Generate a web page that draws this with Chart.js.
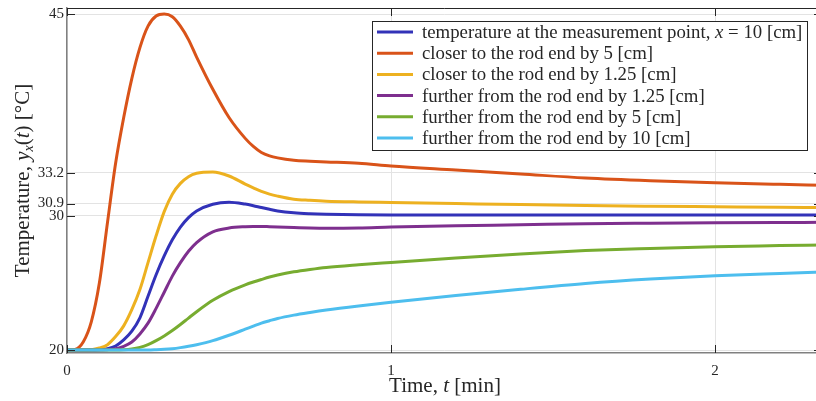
<!DOCTYPE html>
<html>
<head>
<meta charset="utf-8">
<script src="https://cdn.jsdelivr.net/npm/chart.js@4/dist/chart.umd.min.js"></script>
<style>
  html, body { margin: 0; padding: 0; background: #fff; overflow: hidden; }
  #wrap { width: 816px; height: 401px; overflow: hidden; }
  #box { width: 823px; height: 401px; position: relative; }
</style>
</head>
<body>
<div id="wrap"><div id="box"><canvas id="chart"></canvas></div></div>
<script>
// time axis [min]
const time = [0, 0.025, 0.05, 0.075, 0.1, 0.125, 0.15, 0.175, 0.2, 0.225, 0.25, 0.275, 0.3, 0.325, 0.35, 0.375,
  0.4, 0.45, 0.5, 0.55, 0.575, 0.6, 0.625, 0.65, 0.7, 0.75, 0.8, 0.9, 1.0, 1.2, 1.4, 1.6, 1.8, 2.0, 2.2, 2.33]

// temperature responses [°C]
const measPoint = [20, 20, 20, 20, 20.03, 20.1, 20.3, 20.75, 21.4, 22.4, 24.0, 25.6, 27.0, 28.2, 29.15, 29.85,
  30.35, 30.85, 31.0, 30.86, 30.74, 30.6, 30.47, 30.35, 30.21, 30.14, 30.1, 30.06, 30.05, 30.05, 30.05, 30.05, 30.05, 30.05, 30.05, 30.05]
const closer5 = [20, 20.05, 20.6, 22.1, 25.0, 29.5, 33.9, 37.3, 40.2, 42.5, 44.1, 44.85, 45.0, 44.8, 44.1, 43.1,
  41.8, 39.4, 37.3, 35.75, 35.15, 34.7, 34.45, 34.3, 34.12, 34.05, 34.0, 33.9, 33.7, 33.4, 33.1, 32.8, 32.6, 32.45, 32.33, 32.26]
const closer125 = [20, 20, 20, 20.02, 20.15, 20.4, 21.0, 21.8, 23.0, 24.5, 26.5, 28.5, 30.3, 31.6, 32.4, 32.9,
  33.15, 33.25, 32.95, 32.35, 32.07, 31.8, 31.6, 31.45, 31.22, 31.14, 31.08, 31.02, 30.98, 30.9, 30.82, 30.75, 30.7, 30.66, 30.62, 30.6]
const further125 = [20, 20, 20, 20, 20, 20.03, 20.1, 20.28, 20.6, 21.2, 22.0, 23.1, 24.3, 25.5, 26.5, 27.35,
  28.0, 28.8, 29.08, 29.18, 29.2, 29.2, 29.18, 29.16, 29.12, 29.08, 29.06, 29.08, 29.15, 29.25, 29.32, 29.4, 29.44, 29.47, 29.49, 29.5]
const further5 = [20, 20, 20, 20, 20, 20, 20, 20.02, 20.08, 20.2, 20.4, 20.7, 21.05, 21.45, 21.9, 22.38,
  22.85, 23.7, 24.35, 24.85, 25.06, 25.25, 25.43, 25.58, 25.82, 26.0, 26.15, 26.35, 26.52, 26.85, 27.15, 27.4, 27.56, 27.69, 27.77, 27.82]
const further10 = [20, 20, 20, 20, 20, 20, 20, 20, 20, 20, 20, 20.02, 20.05, 20.1, 20.18, 20.28,
  20.4, 20.7, 21.1, 21.55, 21.78, 22.0, 22.18, 22.35, 22.6, 22.8, 22.98, 23.28, 23.55, 24.05, 24.52, 24.95, 25.28, 25.53, 25.7, 25.8]

const seriesLabels = [
  'temperature at the measurement point, *x* = 10 [cm]',
  'closer to the rod end by 5 [cm]',
  'closer to the rod end by 1.25 [cm]',
  'further from the rod end by 1.25 [cm]',
  'further from the rod end by 5 [cm]',
  'further from the rod end by 10 [cm]'
]
const seriesValues = [measPoint, closer5, closer125, further125, further5, further10]
const seriesColors = ['#3232B8', '#D95319', '#EDB120', '#7E2F8E', '#77AC30', '#4DBEEE']

const yTicks = [20, 30, 30.9, 33.2, 45]
const xTicks = [0, 1, 2]

const SERIF = '"Liberation Serif", "DejaVu Serif", serif'
const INK = '#262626'
const AXIS = '#808080'

// text with *italic* runs, left aligned
function richText(ctx, text, x, y, size) {
  text.split('*').forEach((part, i) => {
    ctx.font = (i % 2 ? 'italic ' : '') + size + 'px ' + SERIF
    ctx.fillText(part, x, y)
    x += ctx.measureText(part).width
  })
}

// runs of [text, style, size, dy] centred on x=0
function runs(ctx, parts, y) {
  let w = 0
  parts.forEach(([s, f, sz]) => { ctx.font = f + sz + 'px ' + SERIF; w += ctx.measureText(s).width })
  let x = -w / 2
  parts.forEach(([s, f, sz, dy]) => {
    ctx.font = f + sz + 'px ' + SERIF
    ctx.fillText(s, x, y + dy)
    x += ctx.measureText(s).width
  })
}

const frame = {
  id: 'frame',
  afterDraw(chart) {
    const { ctx, chartArea: a, scales: { x, y } } = chart
    ctx.save()
    // top and right edges of the box
    ctx.strokeStyle = INK
    ctx.lineWidth = 1
    ctx.beginPath()
    ctx.moveTo(a.left, a.top + 0.5); ctx.lineTo(a.right - 0.5, a.top + 0.5); ctx.lineTo(a.right - 0.5, a.bottom)
    ctx.stroke()

    // inward ticks on every side
    ctx.beginPath()
    y.ticks.forEach(t => {
      const py = Math.round(y.getPixelForValue(t.value)) + 0.5
      ctx.moveTo(a.left, py); ctx.lineTo(a.left + 8, py)
      ctx.moveTo(a.right, py); ctx.lineTo(a.right - 8, py)
    })
    x.ticks.forEach(t => {
      const px = Math.round(x.getPixelForValue(t.value)) + 0.5
      ctx.moveTo(px, a.bottom); ctx.lineTo(px, a.bottom - 8)
      ctx.moveTo(px, a.top); ctx.lineTo(px, a.top + 8)
    })
    ctx.stroke()

    // legend
    const lx = 372, ly = 21, lw = 435, lh = 129
    ctx.fillStyle = '#fff'
    ctx.fillRect(lx, ly, lw, lh)
    ctx.strokeRect(lx + 0.5, ly + 0.5, lw, lh)
    ctx.textBaseline = 'middle'
    chart.data.datasets.forEach((ds, i) => {
      const rowY = ly + 11 + i * 21.2
      ctx.strokeStyle = ds.borderColor
      ctx.lineWidth = 3
      ctx.beginPath(); ctx.moveTo(lx + 5, rowY); ctx.lineTo(lx + 41, rowY); ctx.stroke()
      ctx.fillStyle = INK
      richText(ctx, ds.label, lx + 50, rowY + 1, 18.8)
    })

    // axis titles
    ctx.fillStyle = INK
    ctx.textBaseline = 'alphabetic'
    ctx.save()
    ctx.translate(445, 0)
    runs(ctx, [['Time, ', '', 21, 0], ['t', 'italic ', 21, 0], [' [min]', '', 21, 0]], 392)
    ctx.restore()

    ctx.translate(29, (a.top + a.bottom) / 2)
    ctx.rotate(-Math.PI / 2)
    runs(ctx, [['Temperature, ', '', 21, 0], ['y', 'italic ', 21, 0], ['x', 'italic ', 14, 4],
      ['(', '', 21, 0], ['t', 'italic ', 21, 0], [')', '', 21, 0], [' [°C]', '', 21, 0]], 0)
    ctx.restore()
  }
}

new Chart(document.getElementById('chart'), {
  type: 'line',
  data: {
    datasets: seriesValues.map((vals, i) => ({
      label: seriesLabels[i],
      data: vals.map((v, k) => ({ x: time[k], y: v })),
      borderColor: seriesColors[i],
      borderWidth: 3,
      pointRadius: 0,
      cubicInterpolationMode: 'monotone',
      order: seriesValues.length - i
    }))
  },
  options: {
    responsive: true,
    maintainAspectRatio: false,
    animation: false,
    devicePixelRatio: 1,
    layout: { padding: { left: 0, top: 8, right: 1, bottom: 0 } },
    plugins: { legend: { display: false }, tooltip: { enabled: false } },
    scales: {
      x: {
        type: 'linear',
        min: 0,
        max: 2.33,
        afterBuildTicks: s => { s.ticks = xTicks.map(v => ({ value: v })) },
        afterFit: s => { s.height = 48; s.paddingLeft = 0; s.paddingRight = 0 },
        grid: { color: '#e3e3e3', drawTicks: false },
        border: { color: AXIS, width: 1.5 },
        ticks: { padding: 9, color: INK, font: { family: SERIF, size: 15 } }
      },
      y: {
        type: 'linear',
        min: 19.78,
        max: 45.45,
        afterBuildTicks: s => { s.ticks = yTicks.map(v => ({ value: v })) },
        afterFit: s => { s.width = 67; s.paddingTop = 0; s.paddingBottom = 0 },
        grid: { color: '#e3e3e3', drawTicks: false },
        border: { color: AXIS, width: 1.5 },
        ticks: { padding: 3, autoSkip: false, color: INK, font: { family: SERIF, size: 15 }, callback: v => String(v) }
      }
    }
  },
  plugins: [frame]
})
</script>
</body>
</html>
